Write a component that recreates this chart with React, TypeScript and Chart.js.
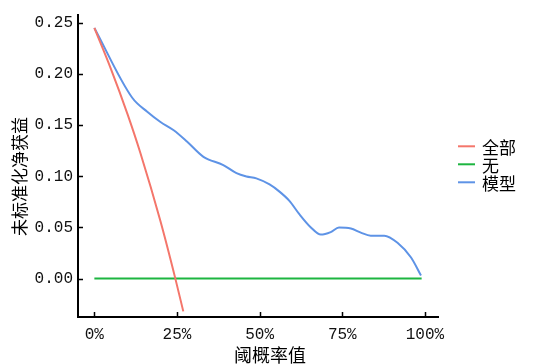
import React, { useEffect, useRef } from "react";
import { Chart, registerables } from "chart.js";

Chart.register(...registerables);

// ---- data ----
const seriesLabels = ["全部", "无", "模型"];
const seriesColors = ["#F4766B", "#1DB540", "#5E93E6"];

const allThreshold = [0, 0.05, 0.1, 0.139, 0.2, 0.245, 0.269];
const allBenefit = [0.245, 0.205, 0.161, 0.123, 0.056, 0.0, -0.032];

const noneThreshold = [0, 0.99];
const noneBenefit = [0, 0];

const modelThreshold = [0, 0.114, 0.16, 0.2, 0.24, 0.28, 0.33, 0.39, 0.43, 0.46, 0.49, 0.53, 0.56, 0.59, 0.62, 0.655, 0.685, 0.715, 0.74, 0.776, 0.806, 0.836, 0.877, 0.917, 0.958, 0.988];
const modelBenefit = [0.245, 0.177, 0.163, 0.153, 0.145, 0.134, 0.119, 0.111, 0.103, 0.0998, 0.098, 0.092, 0.085, 0.076, 0.063, 0.05, 0.043, 0.0455, 0.05, 0.049, 0.045, 0.042, 0.042, 0.035, 0.0206, 0.003];

const xTicks = [0, 0.25, 0.5, 0.75, 1];
const yTicks = [0, 0.05, 0.1, 0.15, 0.2, 0.25];

const xTitle = "阈概率值";
const yTitle = "未标准化净获益";

const toPoints = (xs: number[], ys: number[]) => xs.map((x, i) => ({ x, y: ys[i] }));

const CJK = '"Noto Sans CJK SC", sans-serif';
const TICK_FONT = '"Liberation Mono", monospace';

const decorPlugin = {
  id: "decor",
  afterDraw(chart: any) {
    const { ctx, chartArea, scales } = chart;
    const xs = scales.x;
    const ys = scales.y;
    ctx.save();
    // inward ticks
    ctx.strokeStyle = "#000";
    ctx.lineWidth = 1.5;
    ctx.beginPath();
    yTicks.forEach((v) => {
      const py = Math.round(ys.getPixelForValue(v)) + 0.5;
      ctx.moveTo(chartArea.left, py);
      ctx.lineTo(chartArea.left + 5, py);
    });
    xTicks.forEach((v) => {
      const px = Math.round(xs.getPixelForValue(v)) + 0.5;
      ctx.moveTo(px, chartArea.bottom);
      ctx.lineTo(px, chartArea.bottom - 5);
    });
    ctx.stroke();

    // axis titles
    ctx.fillStyle = "#000";
    ctx.font = `18px ${CJK}`;
    ctx.textAlign = "center";
    ctx.textBaseline = "middle";
    ctx.fillText(xTitle, chartArea.left + 192, chartArea.bottom + 38);
    ctx.save();
    ctx.translate(20, chartArea.top + 162);
    ctx.rotate(-Math.PI / 2);
    ctx.font = `17px ${CJK}`;
    ctx.fillText(yTitle, 0, 0);
    ctx.restore();

    // legend
    const cy = (chartArea.top + chartArea.bottom) / 2 - 1.5;
    const lx = chartArea.right + 20;
    chart.data.datasets.forEach((ds: any, i: number) => {
      const y = cy + (i - 1) * 18;
      ctx.strokeStyle = ds.borderColor;
      ctx.lineWidth = 2;
      ctx.beginPath();
      ctx.moveTo(lx, y);
      ctx.lineTo(lx + 17, y);
      ctx.stroke();
      ctx.fillStyle = "#000";
      ctx.font = `17px ${CJK}`;
      ctx.textAlign = "left";
      ctx.textBaseline = "middle";
      ctx.fillText(ds.label, lx + 24, y + 1);
    });
    ctx.restore();
  },
};

export default function App() {
  const ref = useRef<HTMLCanvasElement | null>(null);
  useEffect(() => {
    if (!ref.current) return;
    const chart = new Chart(ref.current, {
      type: "line",
      data: {
        datasets: [
          {
            label: seriesLabels[0],
            data: toPoints(allThreshold, allBenefit),
            borderColor: seriesColors[0],
            borderWidth: 2,
            pointRadius: 0,
            cubicInterpolationMode: "monotone",
          },
          {
            label: seriesLabels[1],
            data: toPoints(noneThreshold, noneBenefit),
            borderColor: seriesColors[1],
            borderWidth: 2,
            pointRadius: 0,
          },
          {
            label: seriesLabels[2],
            data: toPoints(modelThreshold, modelBenefit),
            borderColor: seriesColors[2],
            borderWidth: 2,
            pointRadius: 0,
            cubicInterpolationMode: "monotone",
          },
        ],
      },
      options: {
        responsive: false,
        animation: false,
        devicePixelRatio: 1,
        layout: { padding: { left: 0, top: 12, right: 95, bottom: 0 } },
        plugins: { legend: { display: false }, tooltip: { enabled: false } },
        scales: {
          x: {
            type: "linear",
            min: -0.0495,
            max: 1.0395,
            grid: { display: false, drawTicks: false },
            border: { display: true, color: "#000", width: 2 },
            afterBuildTicks: (s: any) => {
              s.ticks = xTicks.map((v) => ({ value: v }));
            },
            afterFit: (s: any) => {
              s.height = 47;
            },
            ticks: {
              padding: 8,
              color: "#111",
              font: { family: TICK_FONT, size: 16 },
              callback: (v: any) => `${Math.round(Number(v) * 100)}%`,
            },
          },
          y: {
            type: "linear",
            min: -0.0375,
            max: 0.258,
            grid: { display: false, drawTicks: false },
            border: { display: true, color: "#000", width: 2 },
            afterBuildTicks: (s: any) => {
              s.ticks = yTicks.map((v) => ({ value: v }));
            },
            afterFit: (s: any) => {
              s.width = 78;
            },
            ticks: {
              padding: 5,
              color: "#111",
              font: { family: TICK_FONT, size: 16 },
              callback: (v: any) => Number(v).toFixed(2),
            },
          },
        },
      },
      plugins: [decorPlugin],
    });
    return () => chart.destroy();
  }, []);
  return (
    <div style={{ position: "fixed", left: 0, top: 0, width: 533, height: 364, background: "#fff" }}>
      <canvas ref={ref} width={533} height={364} style={{ width: 533, height: 364 }} />
    </div>
  );
}
